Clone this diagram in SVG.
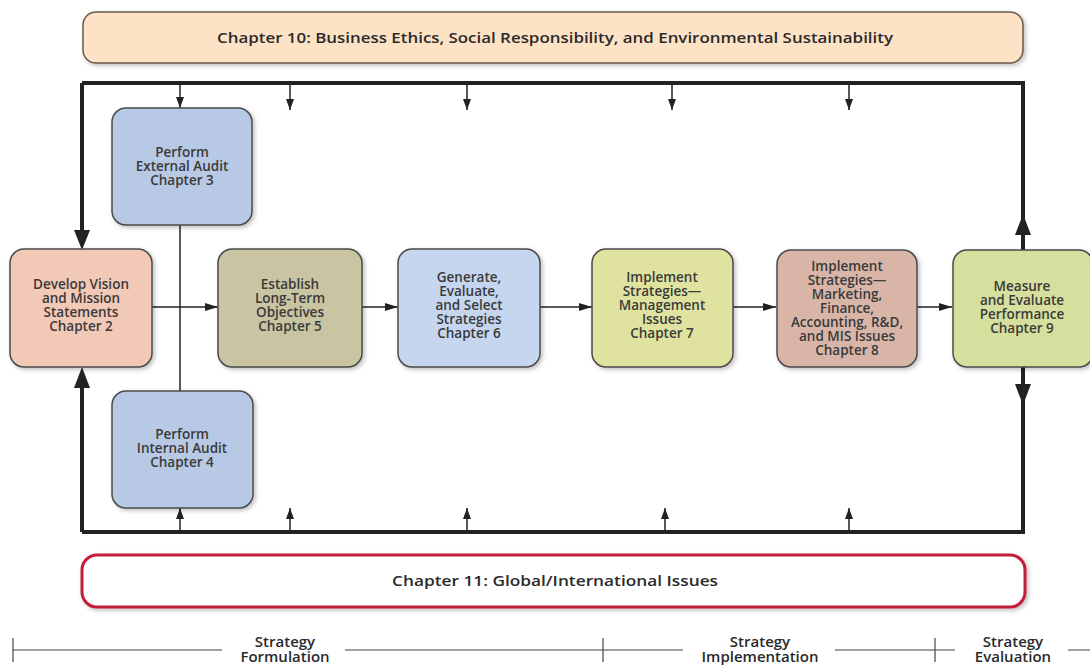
<svg xmlns="http://www.w3.org/2000/svg" width="1090" height="666" viewBox="0 0 1090 666">
<defs>
<style>
.box{stroke:#4a4a4a;stroke-width:1.5;filter:url(#sh)}
.t{font-family:"Open Sans","Liberation Sans",Arial,sans-serif;font-weight:600;font-size:13.5px;fill:#3a3a3a;text-anchor:middle}
.h{font-family:"Open Sans","Liberation Sans",Arial,sans-serif;font-weight:600;font-size:14px;fill:#2a2a2a;text-anchor:middle}
.s{font-family:"Open Sans","Liberation Sans",Arial,sans-serif;font-weight:600;font-size:15px;fill:#2a2a2a;text-anchor:middle}
.thin{stroke:#222;stroke-width:1.5;fill:none}
.thick{stroke:#222;stroke-width:4;fill:none}
.tl{stroke:#444;stroke-width:1.2;fill:none}
</style>
<marker id="a" markerUnits="userSpaceOnUse" markerWidth="12" markerHeight="10" refX="11" refY="4" orient="auto">
<path d="M0,0 L11,4 L0,8 Z" fill="#222"/>
</marker>
<marker id="b" markerUnits="userSpaceOnUse" markerWidth="14" markerHeight="10" refX="13" refY="4" orient="auto">
<path d="M0,0 L13,4 L0,8 Z" fill="#222"/>
</marker>
<filter id="sh" x="-10%" y="-10%" width="130%" height="130%">
<feDropShadow dx="2" dy="2" stdDeviation="2" flood-color="#000" flood-opacity="0.25"/>
</filter>
</defs>

<g id="chapter10">
<rect x="83" y="12" width="940" height="51" rx="13" fill="#fde2c6" stroke="#6b5a4a" stroke-width="1.5" filter="url(#sh)"/>
<text class="h" x="555" y="43" textLength="676" lengthAdjust="spacingAndGlyphs">Chapter 10: Business Ethics, Social Responsibility, and Environmental Sustainability</text>
</g>

<g id="chapter11">
<rect x="82" y="555" width="943" height="52" rx="15" fill="#fff" stroke="#c41e3a" stroke-width="3" filter="url(#sh)"/>
<text class="h" x="555" y="586" textLength="326" lengthAdjust="spacingAndGlyphs">Chapter 11:  Global/International Issues</text>
</g>

<g id="connectors">
<path class="thick" d="M82,83 H1023 V250"/>
<path class="thick" d="M82,83 V232"/>
<polygon points="74,230 90,230 82,250" fill="#222"/>
<path class="thick" d="M82,532 H1023 V367"/>
<path class="thick" d="M82,532 V386"/>
<polygon points="74,388 90,388 82,367" fill="#222"/>
<polygon points="1015,235 1031,235 1023,214" fill="#222"/>
<polygon points="1015,384 1031,384 1023,405" fill="#222"/>
<line class="thin" x1="180" y1="83" x2="180" y2="108" marker-end="url(#a)"/>
<line class="thin" x1="290" y1="83" x2="290" y2="110" marker-end="url(#a)"/>
<line class="thin" x1="467" y1="83" x2="467" y2="110" marker-end="url(#a)"/>
<line class="thin" x1="672" y1="83" x2="672" y2="110" marker-end="url(#a)"/>
<line class="thin" x1="849" y1="83" x2="849" y2="110" marker-end="url(#a)"/>
<line class="thin" x1="180" y1="532" x2="180" y2="508" marker-end="url(#a)"/>
<line class="thin" x1="290" y1="532" x2="290" y2="508" marker-end="url(#a)"/>
<line class="thin" x1="467" y1="532" x2="467" y2="508" marker-end="url(#a)"/>
<line class="thin" x1="665" y1="532" x2="665" y2="508" marker-end="url(#a)"/>
<line class="thin" x1="849" y1="532" x2="849" y2="508" marker-end="url(#a)"/>
<line class="thin" x1="180" y1="225" x2="180" y2="392" stroke-width="2"/>
<line class="thin" x1="152" y1="307" x2="218" y2="307" marker-end="url(#b)"/>
<line class="thin" x1="362" y1="307" x2="398" y2="307" marker-end="url(#b)"/>
<line class="thin" x1="540" y1="307" x2="592" y2="307" marker-end="url(#b)"/>
<line class="thin" x1="733" y1="307" x2="776" y2="307" marker-end="url(#b)"/>
<line class="thin" x1="917" y1="307" x2="952" y2="307" marker-end="url(#b)"/>
<path class="tl" d="M13,650 H222 M345,650 H603 M603,650 H683 M835,650 H935 M935,650 H955 M1068,650 H1090"/>
<path class="tl" d="M13,638 V662 M603,638 V662 M935,638 V662"/>
</g>

<g id="external-audit">
<rect class="box" x="112" y="108" width="140" height="117" rx="14" fill="#b8c9e6"/>
<text class="t" x="182" y="157">Perform</text>
<text class="t" x="182" y="171">External Audit</text>
<text class="t" x="182" y="185">Chapter 3</text>
</g>

<g id="internal-audit">
<rect class="box" x="112" y="391" width="141" height="117" rx="14" fill="#b8c9e6"/>
<text class="t" x="182" y="439">Perform</text>
<text class="t" x="182" y="453">Internal Audit</text>
<text class="t" x="182" y="467">Chapter 4</text>
</g>

<g id="vision">
<rect class="box" x="10" y="249" width="142" height="118" rx="14" fill="#f2c8b6"/>
<text class="t" x="81" y="289">Develop Vision</text>
<text class="t" x="81" y="303">and Mission</text>
<text class="t" x="81" y="317">Statements</text>
<text class="t" x="81" y="331">Chapter 2</text>
</g>

<g id="objectives">
<rect class="box" x="218" y="249" width="144" height="118" rx="14" fill="#c9c4a2"/>
<text class="t" x="290" y="289">Establish</text>
<text class="t" x="290" y="303">Long-Term</text>
<text class="t" x="290" y="317">Objectives</text>
<text class="t" x="290" y="331">Chapter 5</text>
</g>

<g id="strategies">
<rect class="box" x="398" y="249" width="142" height="118" rx="14" fill="#c6d6ef"/>
<text class="t" x="469" y="282">Generate,</text>
<text class="t" x="469" y="296">Evaluate,</text>
<text class="t" x="469" y="310">and Select</text>
<text class="t" x="469" y="324">Strategies</text>
<text class="t" x="469" y="338">Chapter 6</text>
</g>

<g id="management">
<rect class="box" x="592" y="249" width="141" height="118" rx="14" fill="#dfe39f"/>
<text class="t" x="662" y="282">Implement</text>
<text class="t" x="662" y="296">Strategies—</text>
<text class="t" x="662" y="310">Management</text>
<text class="t" x="662" y="324">Issues</text>
<text class="t" x="662" y="338">Chapter 7</text>
</g>

<g id="marketing">
<rect class="box" x="777" y="250" width="140" height="117" rx="14" fill="#d9b5a8"/>
<text class="t" x="847" y="271">Implement</text>
<text class="t" x="847" y="285">Strategies—</text>
<text class="t" x="847" y="299">Marketing,</text>
<text class="t" x="847" y="313">Finance,</text>
<text class="t" x="847" y="327">Accounting, R&amp;D,</text>
<text class="t" x="847" y="341">and MIS Issues</text>
<text class="t" x="847" y="355">Chapter 8</text>
</g>

<g id="measure">
<rect class="box" x="953" y="250" width="140" height="117" rx="14" fill="#d6df9d"/>
<text class="t" x="1022" y="291">Measure</text>
<text class="t" x="1022" y="305">and Evaluate</text>
<text class="t" x="1022" y="319">Performance</text>
<text class="t" x="1022" y="333">Chapter 9</text>
</g>

<g id="timeline-labels">
<text class="s" x="285" y="647">Strategy</text>
<text class="s" x="285" y="662">Formulation</text>
<text class="s" x="760" y="647">Strategy</text>
<text class="s" x="760" y="662">Implementation</text>
<text class="s" x="1013" y="647">Strategy</text>
<text class="s" x="1013" y="662">Evaluation</text>
</g>
</svg>
